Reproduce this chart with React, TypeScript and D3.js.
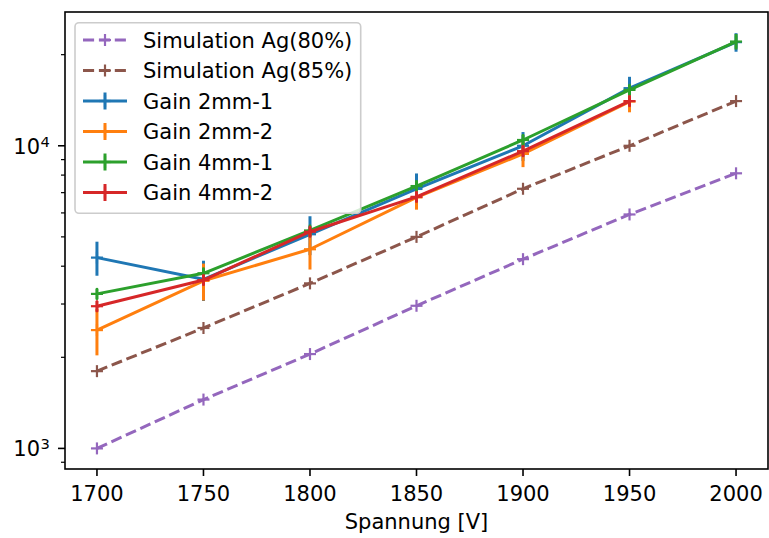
import React from 'react';
import * as d3 from 'd3';

const volts = [1700, 1750, 1800, 1850, 1900, 1950, 2000];
const xTicks = [1700, 1750, 1800, 1850, 1900, 1950, 2000];

const sim80 = [1000, 1450, 2050, 2960, 4220, 5930, 8110];
const sim85 = [1800, 2500, 3510, 5000, 7210, 10000, 14050];

const gain2mm1 = [4270, 3620, 5100, 7200, 10000, 15500, 22000];
const gain2mm1Err = [550, 550, 750, 900, 1100, 1400, 1550];
const gain2mm2 = [2460, 3580, 4550, 6750, 9400, 14000];
const gain2mm2Err = [430, 500, 650, 600, 900, 1100];
const gain4mm1 = [3240, 3790, 5250, 7360, 10450, 15300, 22100];
const gain4mm1Err = [130, 150, 200, 300, 420, 600, 1300];
const gain4mm2 = [2950, 3600, 5200, 6780, 9600, 14050];
const gain4mm2Err = [120, 140, 200, 270, 380, 560];

const simSeries = [
  { label: 'Simulation Ag(80%)', values: sim80, color: '#9467bd' },
  { label: 'Simulation Ag(85%)', values: sim85, color: '#8c564b' },
];
const gainSeries = [
  { label: 'Gain 2mm-1', values: gain2mm1, err: gain2mm1Err, color: '#1f77b4' },
  { label: 'Gain 2mm-2', values: gain2mm2, err: gain2mm2Err, color: '#ff7f0e' },
  { label: 'Gain 4mm-1', values: gain4mm1, err: gain4mm1Err, color: '#2ca02c' },
  { label: 'Gain 4mm-2', values: gain4mm2, err: gain4mm2Err, color: '#d62728' },
];

const W = 769, H = 538;
const left = 65, right = 768, top = 12, bottom = 469;
const font = 'DejaVu Sans, sans-serif';
const fs = 21;
const dash = '11.1,4.8';

const Plus = ({ x, y, color }: { x: number; y: number; color: string }) => (
  <g stroke={color} strokeWidth={2.2}>
    <line x1={x - 6} x2={x + 6} y1={y} y2={y} />
    <line x1={x} x2={x} y1={y - 6} y2={y + 6} />
  </g>
);

export default function App() {
  const x = d3.scaleLinear().domain([1685, 2015]).range([left, right]);
  const y = d3.scaleLog().domain([855, 27670]).range([bottom, top]);

  const line = d3.line<number>()
    .x((_, i) => x(volts[i]))
    .y(d => y(d));

  const minor: number[] = [900];
  for (let k = 2; k <= 9; k++) minor.push(k * 1000);
  minor.push(20000);

  const legendY = (i: number) => 40 + i * 30.5;

  return (
    <svg width={W} height={H} style={{ position: 'absolute', left: 0, top: 0 }} fontFamily={font}>
      <rect width={W} height={H} fill="white" />
      <defs>
        <clipPath id="plot">
          <rect x={left} y={top} width={right - left} height={bottom - top} />
        </clipPath>
      </defs>

      <g clipPath="url(#plot)">
        {simSeries.map(s => (
          <g key={s.label}>
            <path d={line(s.values) || ''} fill="none" stroke={s.color} strokeWidth={3} strokeDasharray={dash} />
            {s.values.map((v, i) => <Plus key={i} x={x(volts[i])} y={y(v)} color={s.color} />)}
          </g>
        ))}
        {gainSeries.map(s => (
          <g key={s.label}>
            {s.values.map((v, i) => (
              <line key={'e' + i} x1={x(volts[i])} x2={x(volts[i])} y1={y(v - s.err[i])} y2={y(v + s.err[i])}
                stroke={s.color} strokeWidth={3} />
            ))}
            <path d={line(s.values) || ''} fill="none" stroke={s.color} strokeWidth={3} strokeLinejoin="round" />
            {s.values.map((v, i) => <Plus key={i} x={x(volts[i])} y={y(v)} color={s.color} />)}
          </g>
        ))}
      </g>

      {/* axes frame */}
      <rect x={left} y={top} width={right - left} height={bottom - top} fill="none" stroke="black" strokeWidth={1.6} />

      {/* x ticks */}
      {xTicks.map(t => (
        <g key={t}>
          <line x1={x(t)} x2={x(t)} y1={bottom} y2={bottom + 7} stroke="black" strokeWidth={1.6} />
          <text x={x(t)} y={500.5} fontSize={fs} textAnchor="middle">{t}</text>
        </g>
      ))}
      <text x={(left + right) / 2} y={529} fontSize={fs} textAnchor="middle">Spannung [V]</text>

      {/* y ticks */}
      {[1000, 10000].map((t, i) => (
        <g key={t}>
          <line x1={left - 7} x2={left} y1={y(t)} y2={y(t)} stroke="black" strokeWidth={1.6} />
          <text x={40} y={y(t) + 7.8} fontSize={fs} textAnchor="end">10</text>
          <text x={40.5} y={y(t) + 1} fontSize={14.7}>{i === 0 ? '3' : '4'}</text>
        </g>
      ))}
      {minor.map(t => (
        <line key={t} x1={left - 4} x2={left} y1={y(t)} y2={y(t)} stroke="black" strokeWidth={1.2} />
      ))}

      {/* legend */}
      <rect x={75} y={22.7} width={285.7} height={190.6} rx={4} fill="white" fillOpacity={0.8} stroke="#cccccc" strokeWidth={1.6} />
      {simSeries.map((s, i) => (
        <g key={s.label}>
          <line x1={83} x2={127} y1={legendY(i)} y2={legendY(i)} stroke={s.color} strokeWidth={3} strokeDasharray={dash} />
          <Plus x={105} y={legendY(i)} color={s.color} />
          <text x={143} y={legendY(i) + 7.5} fontSize={fs}>{s.label}</text>
        </g>
      ))}
      {gainSeries.map((s, j) => {
        const i = j + 2;
        return (
          <g key={s.label}>
            <line x1={105} x2={105} y1={legendY(i) - 8.5} y2={legendY(i) + 8.5} stroke={s.color} strokeWidth={3} />
            <line x1={83} x2={127} y1={legendY(i)} y2={legendY(i)} stroke={s.color} strokeWidth={3} />
            <Plus x={105} y={legendY(i)} color={s.color} />
            <text x={143} y={legendY(i) + 7.5} fontSize={fs}>{s.label}</text>
          </g>
        );
      })}
    </svg>
  );
}
